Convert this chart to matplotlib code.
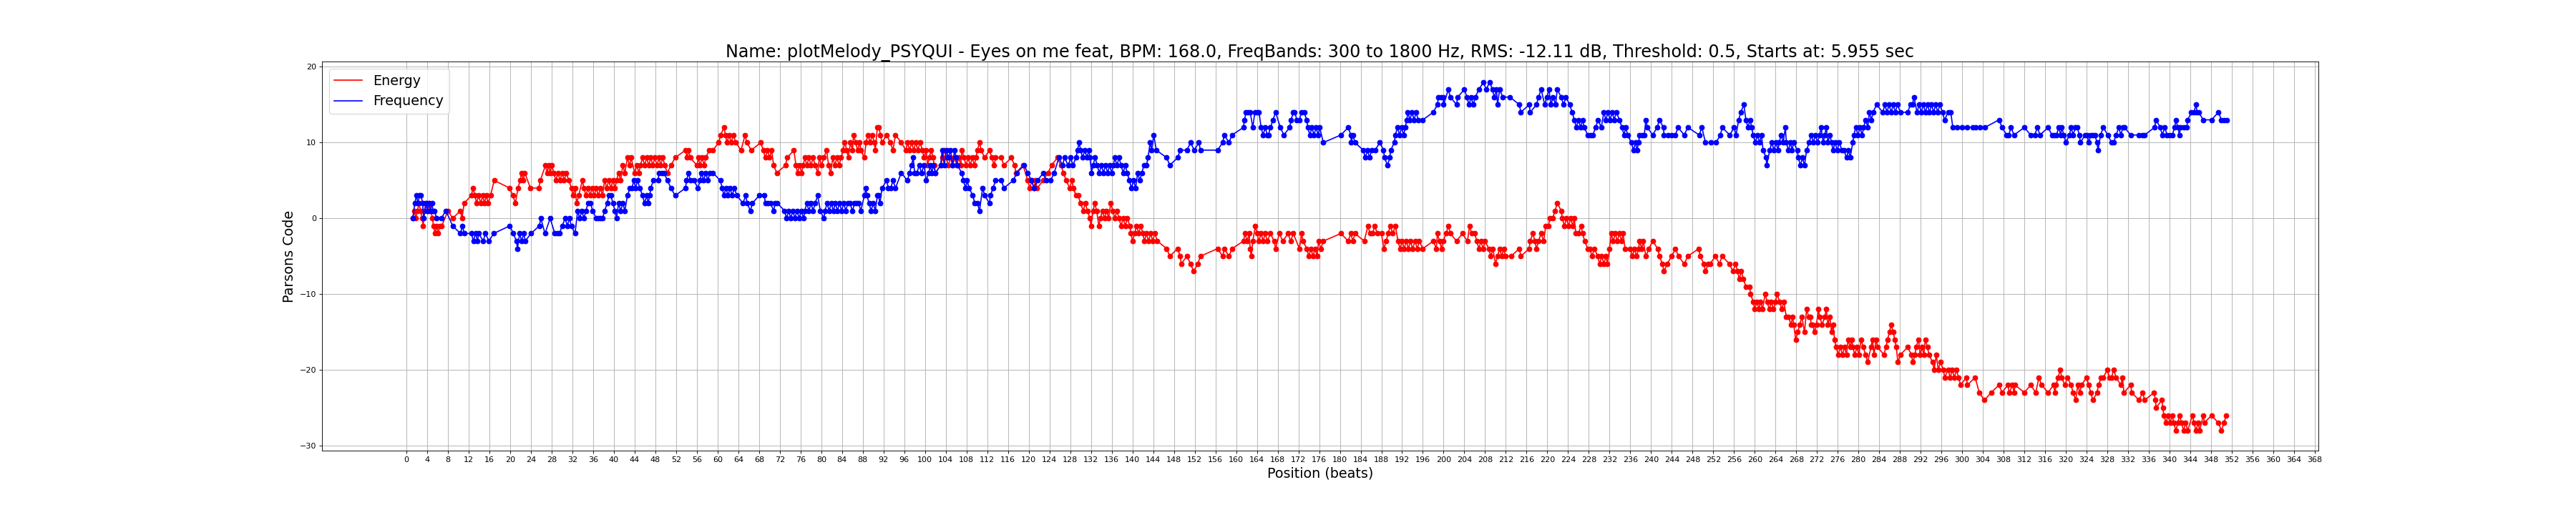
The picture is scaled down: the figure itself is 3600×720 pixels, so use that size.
import matplotlib
matplotlib.use('Agg')
import matplotlib.pyplot as plt
from matplotlib.lines import Line2D

# ── Chart text ──────────────────────────────────────────────
TITLE = ('Name: plotMelody_PSYQUI - Eyes on me feat, BPM: 168.0, '
         'FreqBands: 300 to 1800 Hz, RMS: -12.11 dB, Threshold: 0.5, '
         'Starts at: 5.955 sec')
X_LABEL = 'Position (beats)'
Y_LABEL = 'Parsons Code'
SERIES_NAMES = ['Energy', 'Frequency']
X_TICKS = list(range(0, 372, 4))

# (beat position, cumulative parsons code)
ENERGY = [
    (1.2, 0), (1.5, 1), (1.8, 0), (2.1, 1), (2.4, 2), (2.7, 1), (3.0, 0), (3.2, -1),
    (3.5, 1), (3.8, 2), (4.1, 1), (4.4, 2), (4.7, 1), (5.0, 0), (5.2, -1), (5.5, -2),
    (5.8, -1), (6.1, -2), (6.4, -1), (6.8, -1), (8.0, 1), (8.9, 0), (10.4, 1), (10.7, 0),
    (11.1, 2), (12.5, 3), (12.8, 4), (13.2, 3), (13.5, 2), (13.9, 3), (14.3, 2), (14.7, 3),
    (15.0, 2), (15.4, 3), (15.7, 2), (16.2, 3), (16.9, 5), (19.9, 4), (20.5, 3), (21.0, 2),
    (21.5, 4), (21.9, 5), (22.2, 6), (22.5, 5), (22.8, 6), (23.9, 4), (25.5, 4), (25.8, 5),
    (26.8, 7), (27.1, 6), (27.4, 7), (27.7, 6), (28.0, 7), (28.4, 6), (28.8, 5), (29.2, 6),
    (29.6, 5), (30.0, 6), (30.4, 5), (30.8, 6), (31.3, 5), (31.8, 4), (32.1, 3), (32.5, 4),
    (32.8, 2), (33.2, 3), (33.9, 5), (34.2, 4), (34.6, 3), (35.0, 4), (35.4, 3), (35.8, 4),
    (36.2, 3), (36.6, 4), (37.0, 3), (37.4, 4), (37.8, 3), (38.2, 5), (38.6, 4), (39.0, 5),
    (39.4, 4), (39.8, 5), (40.2, 4), (40.5, 5), (40.9, 6), (41.3, 5), (41.7, 7), (42.1, 6),
    (42.6, 8), (43.0, 7), (43.3, 8), (44.0, 6), (44.4, 7), (44.8, 6), (45.1, 7), (45.5, 8),
    (45.9, 7), (46.3, 8), (46.7, 7), (47.1, 8), (47.5, 7), (47.9, 8), (48.3, 7), (48.7, 8),
    (49.0, 7), (49.4, 8), (49.8, 7), (50.3, 6), (51.0, 7), (51.8, 8), (53.8, 9), (54.1, 8),
    (54.4, 9), (54.7, 8), (56.0, 7), (56.3, 8), (56.6, 7), (57.0, 8), (57.4, 7), (57.7, 8),
    (58.4, 9), (59.1, 9), (60.2, 10), (60.6, 11), (61.2, 12), (61.5, 11), (61.8, 10),
    (62.2, 11), (62.6, 10), (63.0, 11), (63.5, 10), (64.5, 9), (65.3, 11), (65.6, 10),
    (66.5, 9), (68.3, 10), (68.8, 9), (69.2, 8), (69.6, 9), (70.0, 8), (70.4, 9), (70.8, 7),
    (71.4, 6), (73.1, 7), (73.4, 8), (74.7, 9), (75.1, 7), (75.4, 6), (75.8, 7), (76.2, 6),
    (76.5, 7), (76.8, 8), (77.2, 7), (77.6, 8), (78.0, 7), (78.4, 8), (78.8, 7), (79.3, 6),
    (79.6, 8), (80.0, 7), (80.5, 8), (81.0, 9), (81.4, 7), (81.8, 6), (82.2, 8), (82.6, 7),
    (83.0, 8), (83.4, 7), (83.8, 8), (84.2, 9), (84.5, 10), (84.9, 9), (85.2, 8), (85.6, 10),
    (86.0, 9), (86.2, 11), (86.6, 10), (87.0, 9), (87.4, 10), (87.6, 9), (88.3, 8),
    (88.6, 10), (89.0, 11), (89.4, 10), (89.8, 11), (90.2, 10), (90.4, 9), (90.8, 12),
    (91.1, 12), (91.4, 11), (91.7, 10), (92.6, 11), (93.3, 10), (93.8, 9), (94.3, 11),
    (95.4, 10), (96.3, 9), (96.6, 10), (97.0, 9), (97.4, 10), (97.8, 9), (98.2, 10),
    (98.6, 9), (99.0, 10), (99.5, 9), (99.8, 8), (100.2, 9), (100.5, 7), (100.8, 8),
    (101.2, 9), (101.5, 8), (101.8, 7), (102.0, 6), (103.0, 7), (103.4, 8), (103.7, 9),
    (104.1, 8), (104.5, 7), (104.9, 8), (105.3, 7), (105.7, 8), (106.1, 7), (106.5, 8),
    (106.9, 7), (107.1, 9), (107.5, 8), (107.9, 7), (108.3, 8), (108.7, 7), (109.1, 8),
    (109.5, 7), (109.8, 8), (110.1, 9), (110.5, 10), (110.8, 9), (111.5, 8), (112.4, 9),
    (112.9, 8), (113.3, 7), (113.6, 8), (114.7, 8), (115.2, 7), (116.6, 8), (117.3, 7),
    (117.5, 6), (118.9, 7), (119.8, 5), (120.2, 4), (120.6, 5), (121.0, 4), (121.3, 5),
    (121.6, 4), (122.8, 5), (123.7, 6), (124.4, 7), (125.5, 8), (126.2, 7), (126.7, 6),
    (127.2, 5), (127.9, 4), (128.3, 5), (128.6, 4), (129.1, 3), (129.5, 3), (130.0, 2),
    (130.5, 1), (130.9, 2), (131.3, 1), (131.8, 0), (132.0, -1), (132.4, 1), (132.7, 2),
    (133.1, 1), (133.5, -1), (133.8, 0), (134.2, 1), (134.6, 0), (135.0, 1), (135.4, 0),
    (135.8, 2), (136.2, 1), (136.6, 0), (137.0, 1), (137.4, 0), (137.8, -1), (138.2, 0),
    (138.6, -1), (139.0, 0), (139.5, -1), (139.7, -2), (140.0, -3), (140.4, -2),
    (140.8, -1), (141.2, -2), (141.6, -1), (142.0, -2), (142.3, -3), (142.7, -2),
    (143.1, -3), (143.5, -2), (143.9, -3), (144.3, -2), (144.8, -3), (146.6, -4),
    (147.2, -5), (148.7, -4), (149.2, -5), (149.4, -6), (150.5, -5), (151.2, -6),
    (151.8, -7), (152.6, -6), (153.1, -5), (156.4, -4), (157.4, -5), (157.7, -4),
    (158.6, -5), (159.2, -4), (161.4, -3), (161.7, -2), (162.1, -3), (162.5, -2),
    (162.7, -4), (162.9, -5), (163.2, -3), (163.7, -1), (164.0, -2), (164.4, -3),
    (164.8, -2), (165.2, -3), (165.6, -2), (166.0, -3), (166.6, -2), (167.3, -3),
    (167.6, -4), (168.3, -2), (169.0, -3), (170.0, -2), (170.5, -3), (171.0, -2),
    (172.2, -4), (172.6, -2), (172.9, -3), (173.6, -4), (174.0, -5), (174.4, -4),
    (174.8, -5), (175.2, -4), (175.6, -5), (175.9, -3), (176.3, -4), (176.8, -3),
    (180.2, -2), (181.6, -3), (182.1, -2), (182.5, -3), (182.9, -2), (184.7, -3),
    (185.4, -1), (185.8, -2), (186.3, -2), (186.7, -1), (187.2, -2), (188.0, -2),
    (188.5, -4), (188.9, -3), (189.3, -2), (189.7, -1), (190.2, -2), (190.7, -1),
    (191.2, -3), (191.6, -4), (192.0, -3), (192.4, -4), (192.8, -3), (193.2, -4),
    (193.6, -3), (194.0, -4), (194.5, -3), (194.9, -4), (195.3, -3), (196.0, -4),
    (198.0, -3), (198.6, -4), (198.8, -2), (199.2, -3), (199.6, -4), (199.9, -3),
    (200.5, -2), (200.9, -1), (201.3, -2), (202.5, -3), (203.6, -2), (204.6, -3),
    (205.0, -1), (205.4, -2), (206.0, -2), (206.4, -3), (206.8, -4), (207.2, -3),
    (207.6, -4), (208.0, -3), (208.7, -4), (209.1, -5), (209.5, -4), (210.0, -6),
    (210.4, -5), (210.8, -4), (211.2, -5), (211.6, -4), (211.9, -5), (213.0, -5),
    (214.6, -4), (214.9, -5), (216.5, -4), (216.7, -3), (217.2, -2), (217.6, -3),
    (217.9, -4), (218.3, -3), (218.8, -2), (219.3, -3), (219.7, -1), (220.2, -1),
    (220.5, 0), (221.0, 0), (221.5, 1), (221.9, 2), (222.7, 1), (222.9, 0), (223.3, -1),
    (223.7, 0), (224.1, -1), (224.5, 0), (224.9, -1), (225.2, 0), (225.5, -2),
    (226.0, -2), (226.5, -1), (226.8, -2), (227.2, -3), (227.8, -4), (228.2, -4),
    (228.6, -5), (229.1, -4), (229.7, -5), (230.1, -6), (230.5, -5), (230.9, -6),
    (231.3, -5), (231.6, -6), (232.0, -4), (232.3, -2), (232.7, -3), (233.1, -2),
    (233.5, -3), (233.9, -2), (234.3, -3), (234.6, -2), (235.0, -4), (236.0, -4),
    (236.4, -5), (236.8, -4), (237.2, -5), (237.6, -4), (237.8, -3), (238.2, -4),
    (238.5, -3), (239.0, -5), (239.6, -4), (240.3, -3), (241.3, -4), (241.6, -5),
    (242.2, -6), (242.5, -7), (243.1, -6), (244.0, -5), (244.7, -4), (245.3, -5),
    (246.4, -6), (247.1, -5), (249.2, -4), (249.5, -5), (250.2, -6), (250.5, -7),
    (251.0, -6), (251.4, -6), (252.4, -5), (253.2, -6), (253.7, -5), (255.1, -6),
    (255.8, -7), (256.3, -6), (256.7, -7), (257.0, -8), (257.4, -7), (257.8, -8),
    (258.3, -9), (259.0, -9), (259.2, -10), (259.7, -11), (260.0, -12), (260.4, -11),
    (260.8, -12), (261.1, -11), (261.5, -12), (262.0, -10), (262.4, -11), (262.8, -12),
    (263.2, -11), (263.6, -12), (264.0, -11), (264.3, -10), (264.8, -11), (265.2, -12),
    (265.6, -11), (266.1, -13), (266.5, -13), (267.0, -14), (267.3, -13), (267.5, -14),
    (267.9, -16), (268.3, -15), (268.7, -14), (269.1, -13), (269.6, -15), (270.0, -12),
    (270.4, -13), (270.7, -13), (270.9, -14), (271.2, -14), (271.5, -15), (271.9, -14),
    (272.3, -12), (272.5, -13), (273.0, -14), (273.5, -13), (273.8, -12), (274.1, -14),
    (274.5, -13), (274.8, -15), (275.1, -14), (275.4, -16), (275.7, -17), (276.1, -18),
    (276.5, -17), (276.9, -18), (277.3, -17), (277.7, -18), (278.0, -16), (278.4, -17),
    (278.7, -16), (278.9, -17), (279.3, -18), (279.7, -17), (280.1, -18), (280.5, -16),
    (280.9, -17), (281.4, -18), (281.8, -19), (282.4, -17), (282.7, -16), (283.0, -18),
    (283.4, -16), (283.7, -17), (284.9, -18), (285.3, -17), (285.6, -16), (286.0, -15),
    (286.3, -14), (286.7, -15), (287.0, -16), (287.3, -17), (287.6, -19), (288.1, -18),
    (289.5, -17), (290.2, -18), (290.5, -19), (290.9, -18), (291.1, -17), (291.6, -16),
    (291.9, -18), (292.3, -17), (292.6, -18), (292.9, -16), (293.3, -17), (293.6, -18),
    (294.3, -19), (294.6, -20), (295.0, -18), (295.4, -20), (295.8, -19), (296.4, -20),
    (296.6, -21), (297.3, -20), (297.7, -21), (298.1, -20), (298.5, -21), (298.9, -20),
    (299.3, -21), (299.7, -22), (300.8, -21), (301.0, -22), (302.5, -21), (303.3, -23),
    (304.3, -24), (305.6, -23), (307.1, -22), (307.7, -23), (308.8, -22), (309.1, -23),
    (309.7, -22), (310.0, -23), (310.2, -22), (312.0, -23), (313.2, -22), (314.2, -23),
    (314.8, -21), (315.3, -22), (316.6, -23), (317.6, -22), (317.9, -23), (318.1, -22),
    (318.5, -21), (318.9, -20), (319.2, -21), (319.8, -22), (320.3, -21), (321.0, -22),
    (321.4, -23), (321.9, -24), (322.3, -22), (322.7, -23), (323.0, -22), (324.0, -21),
    (324.4, -22), (324.8, -23), (325.2, -24), (326.0, -23), (326.3, -22), (326.8, -21),
    (327.2, -21), (328.0, -20), (328.4, -21), (328.8, -21), (329.2, -20), (329.7, -21),
    (330.6, -22), (330.9, -21), (331.2, -23), (332.5, -22), (332.7, -23), (334.1, -24),
    (334.8, -23), (335.2, -24), (337.0, -23), (337.3, -24), (337.4, -25), (338.5, -24),
    (338.7, -25), (338.9, -26), (339.3, -27), (339.7, -26), (340.1, -27), (340.5, -26),
    (340.8, -27), (341.2, -28), (341.6, -27), (341.9, -26), (342.3, -27), (342.7, -28),
    (343.1, -27), (343.5, -28), (344.4, -26), (344.7, -27), (345.1, -28), (345.5, -27),
    (345.8, -28), (346.5, -26), (346.7, -27), (348.1, -26), (349.4, -27), (350.0, -28),
    (350.5, -27), (350.9, -26),
]

FREQUENCY = [
    (1.2, 0), (1.6, 2), (1.9, 3), (2.2, 2), (2.5, 3), (2.8, 3), (3.1, 2), (3.3, 0),
    (3.7, 2), (4.0, 1), (4.3, 2), (4.6, 1), (4.9, 2), (5.1, 1), (5.4, 1), (5.8, 0),
    (6.7, 0), (7.6, 1), (8.9, -1), (10.4, -2), (10.8, -1), (11.1, -2), (12.5, -2),
    (12.9, -3), (13.3, -2), (13.7, -3), (13.9, -2), (14.8, -3), (15.2, -2), (15.9, -3),
    (16.8, -2), (19.9, -1), (20.6, -2), (21.2, -3), (21.4, -4), (21.8, -2), (22.2, -3),
    (22.6, -2), (22.9, -3), (24.0, -2), (25.6, -1), (25.9, 0), (26.7, -2), (27.7, 0),
    (28.6, -2), (29.1, -2), (29.5, -2), (30.0, -1), (30.6, 0), (31.0, -1), (31.4, 0),
    (31.8, -1), (32.5, -2), (33.0, 1), (33.4, 0), (33.8, 1), (34.2, 0), (34.6, 1),
    (35.0, 2), (35.5, 2), (35.9, 1), (36.6, 0), (37.0, 0), (37.4, 0), (37.8, 0),
    (38.2, 1), (38.7, 2), (39.0, 3), (39.4, 3), (39.8, 2), (40.2, 1), (40.5, 0), (40.9, 2),
    (41.3, 1), (41.7, 2), (42.1, 1), (42.6, 3), (43.1, 4), (43.5, 4), (43.8, 5), (44.2, 4),
    (44.5, 5), (45.0, 4), (45.5, 3), (45.9, 2), (46.3, 3), (46.6, 2), (46.9, 3), (47.1, 4),
    (47.6, 5), (48.5, 5), (48.7, 6), (49.2, 6), (49.7, 6), (50.3, 5), (51.0, 4), (51.8, 3),
    (53.8, 4), (54.0, 5), (54.4, 6), (54.7, 5), (55.4, 5), (56.2, 4), (56.6, 5), (56.9, 6),
    (57.3, 5), (57.7, 6), (58.1, 5), (58.5, 6), (59.1, 6), (60.5, 5), (60.9, 4), (61.2, 3),
    (61.6, 4), (62.0, 3), (62.4, 4), (62.8, 3), (63.2, 4), (63.7, 3), (64.9, 2), (65.4, 3),
    (65.7, 2), (66.3, 1), (66.7, 2), (68.0, 3), (69.0, 3), (69.2, 2), (69.7, 2), (70.2, 2),
    (70.8, 1), (71.1, 2), (71.5, 2), (72.9, 1), (73.3, 0), (73.7, 1), (74.1, 0), (74.5, 1),
    (74.9, 0), (75.3, 1), (75.7, 0), (76.1, 1), (76.6, 0), (76.8, 1), (77.2, 2), (77.6, 1),
    (78.0, 2), (78.4, 1), (78.8, 2), (79.3, 3), (79.8, 1), (80.5, 0), (80.7, 1), (81.1, 2),
    (81.5, 1), (81.9, 2), (82.3, 1), (82.7, 2), (83.1, 1), (83.5, 2), (83.9, 1), (84.3, 2),
    (84.7, 1), (85.1, 2), (85.5, 2), (86.0, 1), (86.4, 2), (86.8, 2), (87.2, 2), (87.6, 1),
    (88.3, 3), (88.6, 4), (88.8, 3), (89.2, 2), (89.6, 1), (90.0, 2), (90.4, 1), (90.8, 3),
    (91.0, 3), (91.3, 2), (91.7, 4), (92.6, 5), (92.9, 4), (93.4, 4), (93.8, 5), (94.3, 4),
    (95.4, 6), (96.6, 5), (97.0, 6), (97.4, 7), (97.7, 8), (98.0, 6), (98.4, 6), (98.9, 7),
    (99.3, 6), (99.8, 7), (100.2, 5), (100.7, 6), (101.0, 7), (101.3, 6), (101.6, 7),
    (102.0, 6), (103.0, 7), (103.3, 9), (103.7, 7), (104.1, 9), (104.5, 8), (104.9, 9),
    (105.3, 7), (105.7, 9), (106.0, 8), (106.2, 7), (107.1, 6), (107.4, 5), (107.8, 4),
    (108.1, 5), (108.5, 4), (109.2, 3), (109.6, 2), (110.1, 2), (110.5, 1), (111.1, 4),
    (111.5, 3), (112.4, 2), (112.6, 3), (113.1, 4), (113.6, 5), (114.7, 5), (115.2, 4),
    (117.0, 5), (117.7, 6), (119.1, 7), (119.8, 6), (120.5, 5), (121.0, 4), (121.7, 5),
    (122.8, 6), (123.3, 5), (124.2, 5), (124.9, 6), (125.8, 8), (126.5, 7), (126.9, 8),
    (127.6, 7), (128.1, 8), (128.5, 7), (129.1, 8), (129.4, 9), (129.7, 10), (130.0, 9),
    (130.4, 8), (130.8, 9), (131.2, 8), (131.6, 9), (131.8, 8), (132.1, 6), (132.4, 7),
    (132.8, 8), (133.2, 7), (133.6, 6), (134.0, 7), (134.4, 6), (134.8, 7), (135.2, 6),
    (135.6, 7), (136.0, 6), (136.3, 7), (136.6, 8), (137.0, 7), (137.4, 8), (137.8, 7),
    (138.2, 6), (138.6, 7), (139.0, 6), (139.4, 5), (139.8, 4), (140.2, 5), (140.6, 4),
    (141.0, 6), (141.4, 5), (141.8, 6), (142.2, 7), (142.7, 7), (143.0, 8), (143.4, 10),
    (143.7, 9), (144.1, 11), (144.6, 9), (146.6, 8), (147.2, 7), (148.7, 8), (149.2, 9),
    (150.5, 9), (151.2, 10), (151.9, 9), (152.8, 10), (153.1, 9), (156.4, 9), (157.4, 10),
    (157.7, 11), (158.6, 10), (159.2, 11), (161.4, 12), (161.6, 13), (161.9, 14),
    (162.3, 14), (162.7, 14), (163.2, 12), (163.6, 14), (164.0, 14), (164.4, 14),
    (164.8, 12), (165.2, 11), (165.6, 12), (166.0, 11), (166.2, 11), (166.6, 12),
    (167.1, 13), (167.6, 14), (168.5, 12), (169.2, 11), (170.3, 12), (170.6, 13),
    (171.0, 14), (171.3, 14), (171.7, 13), (172.2, 13), (172.6, 14), (173.1, 14),
    (173.6, 13), (173.8, 12), (174.2, 11), (174.6, 12), (175.0, 11), (175.4, 12),
    (175.8, 11), (176.1, 12), (176.8, 10), (180.2, 11), (181.6, 12), (182.1, 11),
    (182.2, 10), (182.5, 11), (182.9, 10), (184.5, 9), (184.9, 8), (185.3, 9), (185.7, 8),
    (186.1, 9), (186.8, 9), (187.7, 10), (188.4, 9), (188.6, 8), (189.2, 7), (189.6, 8),
    (189.8, 9), (190.5, 10), (190.7, 11), (191.1, 12), (191.5, 11), (191.9, 12),
    (192.3, 11), (192.6, 12), (192.9, 13), (193.1, 14), (193.5, 13), (193.9, 14),
    (194.3, 13), (194.7, 14), (195.1, 13), (196.0, 13), (198.0, 14), (198.8, 15),
    (199.0, 16), (199.5, 16), (199.9, 16), (200.0, 15), (200.9, 17), (201.3, 16),
    (202.5, 15), (202.7, 16), (204.0, 17), (204.5, 16), (204.9, 15), (205.3, 16),
    (205.7, 15), (206.1, 16), (206.8, 17), (207.7, 18), (208.2, 17), (208.9, 18),
    (209.4, 17), (209.8, 16), (210.2, 17), (210.4, 15), (210.8, 17), (211.4, 16),
    (212.8, 16), (214.6, 15), (214.9, 14), (216.5, 15), (216.7, 14), (217.9, 15),
    (218.3, 16), (218.8, 17), (219.5, 15), (219.9, 16), (220.3, 17), (220.7, 15),
    (221.1, 16), (221.6, 15), (221.9, 17), (222.7, 16), (223.1, 15), (223.6, 16),
    (224.3, 15), (224.8, 14), (225.2, 13), (225.6, 12), (226.0, 13), (226.4, 12),
    (226.8, 13), (227.1, 12), (227.8, 11), (228.3, 11), (228.8, 11), (229.3, 12),
    (229.8, 13), (230.4, 12), (230.9, 14), (231.3, 13), (231.7, 14), (232.1, 13),
    (232.5, 14), (232.9, 13), (233.3, 14), (233.9, 13), (234.4, 12), (234.8, 11),
    (235.1, 12), (235.5, 11), (236.2, 10), (236.6, 9), (237.0, 10), (237.3, 9),
    (237.6, 10), (237.8, 11), (238.3, 11), (238.7, 11), (239.0, 13), (239.3, 12),
    (240.3, 11), (241.2, 12), (241.6, 13), (242.4, 12), (242.5, 11), (243.2, 11),
    (244.0, 11), (244.7, 11), (245.2, 12), (246.4, 11), (247.1, 12), (249.3, 11),
    (249.8, 12), (250.5, 10), (251.5, 10), (252.5, 10), (253.4, 11), (253.7, 12),
    (255.2, 11), (256.0, 12), (256.4, 11), (256.9, 13), (257.3, 14), (257.9, 15),
    (258.3, 13), (258.7, 12), (259.1, 13), (259.4, 12), (259.7, 11), (260.1, 10),
    (260.5, 11), (260.9, 10), (261.3, 11), (261.6, 9), (262.2, 8), (262.3, 7), (262.9, 9),
    (263.3, 10), (263.7, 9), (264.1, 10), (264.5, 9), (264.7, 10), (265.1, 11),
    (265.5, 10), (265.9, 12), (266.1, 10), (266.5, 9), (266.9, 10), (267.2, 9),
    (267.5, 10), (268.2, 9), (268.4, 8), (268.8, 7), (269.2, 8), (269.6, 7), (270.0, 9),
    (270.5, 10), (270.9, 11), (271.3, 10), (271.7, 11), (272.1, 10), (272.5, 11),
    (272.8, 12), (273.2, 10), (273.5, 11), (273.8, 12), (274.1, 10), (274.5, 11),
    (274.8, 10), (275.1, 9), (275.5, 10), (275.9, 9), (276.3, 10), (276.8, 9), (277.2, 9),
    (277.7, 8), (278.1, 9), (278.4, 8), (278.9, 10), (279.1, 11), (279.5, 12), (279.9, 11),
    (280.3, 12), (280.7, 11), (281.0, 12), (281.4, 13), (281.8, 12), (282.1, 14),
    (282.5, 13), (282.8, 14), (283.5, 15), (284.7, 14), (285.1, 15), (285.5, 14),
    (285.9, 15), (286.3, 14), (286.7, 15), (287.1, 14), (287.5, 15), (288.1, 14),
    (289.5, 14), (290.0, 15), (290.4, 15), (290.7, 16), (291.3, 14), (291.7, 15),
    (292.1, 14), (292.5, 15), (292.9, 14), (293.3, 15), (293.7, 14), (294.1, 15),
    (294.5, 14), (294.9, 15), (295.3, 14), (295.7, 15), (296.2, 14), (296.6, 13),
    (297.3, 14), (297.8, 14), (298.2, 12), (299.0, 12), (300.0, 12), (301.0, 12),
    (302.0, 12), (302.6, 12), (303.4, 12), (304.4, 12), (307.1, 13), (307.7, 12),
    (308.6, 11), (309.0, 11), (309.4, 12), (310.0, 11), (312.0, 12), (313.2, 11),
    (314.0, 11), (314.5, 12), (315.0, 11), (316.6, 12), (317.3, 11), (317.8, 11),
    (318.2, 11), (318.6, 12), (319.0, 11), (319.2, 12), (319.6, 11), (320.0, 10),
    (320.7, 11), (321.0, 12), (321.4, 11), (321.8, 12), (322.2, 12), (322.6, 11),
    (322.8, 10), (323.7, 11), (324.1, 11), (324.4, 10), (324.8, 11), (325.2, 11),
    (325.6, 11), (326.0, 10), (326.2, 9), (326.7, 11), (327.2, 12), (328.1, 11),
    (328.8, 10), (329.2, 10), (329.7, 11), (330.2, 12), (330.6, 11), (331.0, 12),
    (331.3, 12), (332.5, 11), (334.1, 11), (334.7, 11), (335.2, 11), (337.1, 12),
    (337.4, 13), (338.2, 12), (338.6, 11), (339.1, 12), (339.5, 11), (340.0, 11),
    (340.5, 11), (341.0, 12), (341.2, 13), (341.6, 12), (341.9, 11), (342.1, 12),
    (342.7, 12), (343.3, 12), (343.5, 13), (344.2, 14), (344.7, 14), (345.1, 15),
    (345.3, 14), (345.6, 14), (346.5, 13), (348.1, 13), (349.4, 14), (350.0, 13),
    (350.5, 13), (351.1, 13),
]

ENERGY_C = 'r'
FREQ_C = 'b'


def main():
    energy_x, energy_y = zip(*ENERGY)
    freq_x, freq_y = zip(*FREQUENCY)

    fig, ax = plt.subplots(figsize=(45, 9), dpi=80)
    fig.subplots_adjust(left=0.125, right=0.9, top=0.88, bottom=0.125)

    ax.plot(energy_x, energy_y, 'o-', color=ENERGY_C)
    ax.plot(freq_x, freq_y, 'o-', color=FREQ_C)

    ax.set_xticks(X_TICKS)
    ax.set_xlim(-16.3, 368.7)
    ax.set_ylim(-30.66, 20.66)
    ax.grid(True)

    ax.set_title(TITLE, fontsize=21.5)
    ax.set_xlabel(X_LABEL, fontsize='xx-large')
    ax.set_ylabel(Y_LABEL, fontsize='xx-large')

    handles = [Line2D([0], [0], color=ENERGY_C, label=SERIES_NAMES[0]),
               Line2D([0], [0], color=FREQ_C, label=SERIES_NAMES[1])]
    ax.legend(handles=handles, loc='upper left', fontsize='xx-large')

    fig.savefig('out.png', dpi=80)
    plt.close(fig)


if __name__ == '__main__':
    main()
